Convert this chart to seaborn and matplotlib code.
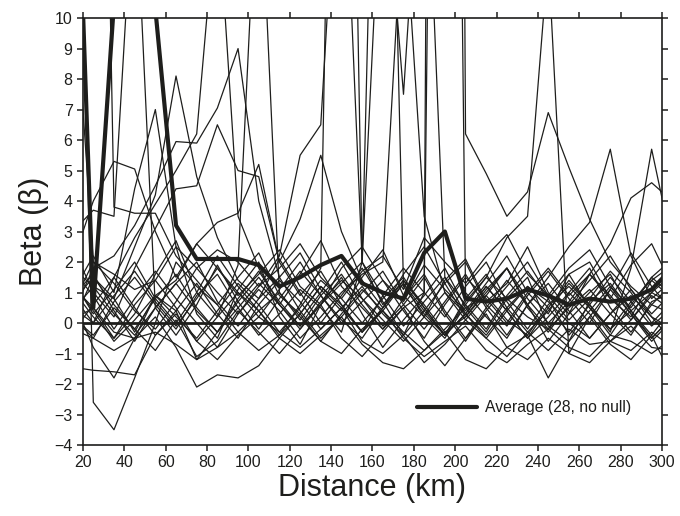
import numpy as np
import pandas as pd
import matplotlib
matplotlib.use('Agg')
import matplotlib.pyplot as plt
import seaborn as sns

# distance bins (km), centre of each 10 km bin
dist = [15, 25, 35, 45, 55, 65, 75, 85, 95, 105, 115, 125, 135, 145, 155,
        165, 175, 185, 195, 205, 215, 225, 235, 245, 255, 265, 275, 285, 295, 305]

# beta per station
s01 = [6.0, 40.0, 3.8, 3.6, 3.6, 2.2, 1.4, 0.6, 1.5, 2.3, 0.9, 0.3, 1.2, 0.5, -0.3, 0.4, 1.3, 0.2, -0.5, 0.6, 1.5, 0.8, 0.2, -0.2, 0.5, 1.1, 0.3, -0.4, 0.7, 1.0]
s02 = [-1.45, -1.55, -1.6, -1.7, -0.4, 0.3, -0.6, -1.2, -0.4, 0.2, -0.3, -0.8, -0.2, 0.5, -0.6, -1.0, -0.4, -1.3, -0.7, 0.1, -0.5, -1.1, -0.3, -0.9, -0.2, -0.7, -0.6, -0.1, -0.8, -0.9]
s03 = [25.0, -2.6, -3.5, -1.8, 0.0, 2.0, 1.2, 0.6, -0.3, 0.4, 1.0, 0.2, -0.6, 0.3, 1.1, 0.4, -0.3, -0.9, -0.2, 0.5, 0.9, 0.1, -0.4, 0.6, 1.2, 0.5, -0.2, 0.4, 1.0, 0.6]
s04 = [0.8, -0.8, -1.8, -0.5, 0.9, 0.4, -1.2, -0.3, 0.5, 1.3, 0.6, -0.2, 0.7, 1.4, 0.8, 0.1, -0.6, 0.2, 1.0, 0.3, -0.4, 0.5, 1.2, 0.7, 0.0, -0.5, 0.3, 0.9, 0.2, -0.2]
s05 = [2.0, 4.0, 5.3, 5.05, 3.0, 1.5, 2.6, 1.8, 0.9, 1.6, 2.4, 1.2, 0.6, 1.8, 2.5, 1.4, 0.7, 1.9, 1.1, 0.4, 1.3, 2.2, 1.0, 0.3, 1.6, 2.0, 0.8, 0.2, 1.4, 1.9]
s06 = [3.0, 3.7, 3.5, 15.0, 0.5, -0.4, 0.6, 1.9, 0.7, -0.2, 0.8, 1.7, 0.9, 0.1, -0.5, 0.5, 1.4, 0.6, -0.3, 0.2, 1.1, 1.8, 0.6, -0.6, 0.3, 1.0, 1.6, 0.4, -0.4, 0.5]
s07 = [1.0, 2.2, 1.0, 4.4, 7.0, 2.5, 0.3, -0.5, 1.1, 2.0, 0.2, -0.7, 0.6, 1.5, 0.3, -0.8, 0.1, 0.9, 1.8, 0.5, -0.3, 0.8, 1.5, -0.1, -0.6, 0.7, 1.3, 0.4, -0.5, 0.2]
s08 = [1.8, 1.2, 0.8, 2.5, 4.2, 8.1, 4.8, 2.8, 1.4, 0.8, 2.1, 1.0, 0.0, 0.9, 1.8, 0.7, -0.4, 0.4, 1.3, 2.0, 0.6, -0.1, 0.9, 1.7, 0.8, 0.0, 1.1, 2.3, 1.2, 0.4]
s09 = [0.3, 1.8, 2.2, 3.2, 4.5, 5.95, 5.9, 7.05, 9.0, 4.0, 1.5, 2.3, 1.1, 0.4, 1.5, 2.4, 0.9, 0.2, 1.4, 2.1, 0.7, 1.3, 2.5, 1.0, 0.3, 1.6, 0.8, 1.9, 2.6, 1.2]
s10 = [0.5, 0.0, 1.5, 2.8, 3.9, 5.0, 6.2, 14.0, 3.5, 1.8, 0.6, 1.6, 2.7, 1.2, 0.5, -0.2, 0.8, 1.6, 0.4, -0.5, 0.5, 1.4, 0.6, -0.2, 1.0, 1.8, 0.5, -0.3, 0.6, 1.3]
s11 = [2.5, 1.0, 0.2, 1.8, 3.1, 4.4, 4.5, 6.5, 5.0, 4.8, 2.0, 0.9, 1.7, 0.6, -0.3, 0.9, 1.8, 1.0, 0.2, 1.2, 2.0, 0.7, -0.2, 0.8, 1.6, 0.5, -0.4, 0.6, 1.5, 0.9]
s12 = [1.2, 0.5, -0.5, 0.3, 1.6, 2.7, 1.0, 0.2, 1.9, 16.0, 1.0, 0.1, 1.0, 2.0, 0.8, -0.1, 0.6, 1.5, 0.3, -0.6, 0.4, 1.2, 2.0, 0.9, 0.1, 0.8, 1.7, 1.0, 0.0, 0.7]
s13 = [0.0, 1.5, 0.8, -0.3, 0.9, 1.4, 2.6, 3.3, 3.6, 5.2, 2.0, 3.4, 5.5, 3.0, 1.4, 0.5, 1.6, 2.5, 1.3, 0.2, 1.0, 1.8, 0.5, -0.3, 0.6, 1.4, 2.2, 1.1, 0.3, 1.0]
s14 = [0.6, 2.0, 1.3, 0.4, -0.2, 0.7, 1.8, 1.0, 0.3, 1.2, 2.2, 5.5, 6.5, 18.0, 2.0, 0.6, 1.4, 0.5, -0.4, 0.3, 1.2, 0.4, -0.5, 0.2, 1.0, 0.3, -0.6, 0.1, 0.9, 0.4]
s15 = [1.4, 0.3, 1.1, 2.0, 0.8, 0.0, 1.0, 2.2, 1.2, 0.4, -0.4, 0.6, 1.8, 40.0, 2.0, 0.9, -0.1, 0.7, 1.5, 0.6, -0.2, 0.9, 1.7, 0.8, -0.4, 0.4, 1.2, 0.3, -0.5, 0.2]
s16 = [0.9, 1.6, 0.4, -0.6, 0.5, 1.3, 0.4, -0.3, 0.8, 1.7, 0.7, -0.1, 0.6, 1.3, 2.0, 30.0, 1.2, 0.3, -0.4, 0.8, 1.6, 0.5, -0.3, 0.4, 1.3, 0.6, -0.2, 0.7, 1.4, 0.8]
s17 = [0.2, -0.5, 0.7, 1.5, 0.6, -0.2, 0.9, 1.6, 0.5, -0.4, 0.3, 1.1, 0.5, -0.3, 2.0, 16.0, 7.5, 18.0, 1.5, 0.3, -0.5, 0.4, 1.2, 0.5, -0.3, 0.6, 1.5, 0.7, -0.1, 0.5]
s18 = [1.7, 0.9, -0.2, 0.8, 1.7, 0.8, 0.0, -0.8, 0.3, 1.1, 0.4, -0.5, 0.2, 1.0, 1.6, 2.0, 14.0, 3.5, 1.0, 0.1, 0.9, 1.8, 0.8, 0.0, 0.7, 1.6, 0.9, 0.1, 1.0, 1.6]
s19 = [-0.3, 0.6, 1.5, 0.5, -0.4, 0.4, 1.3, 0.3, -0.5, 0.6, 1.4, 0.7, -0.2, 0.5, 1.2, 0.3, -0.4, 1.0, 60.0, 1.0, 0.2, -0.5, 0.6, 1.3, 0.4, -0.5, 0.3, 1.1, 0.2, -0.6]
s20 = [0.7, 1.5, 0.6, -0.2, 0.8, 1.6, 0.5, -0.3, 0.7, 1.5, 0.6, -0.1, 0.9, 1.6, 0.6, -0.2, 0.5, 1.0, 120.0, 6.2, 4.9, 3.5, 4.3, 6.9, 5.1, 3.4, 2.0, 1.2, 0.6, 0.3]
s21 = [1.1, 0.2, -0.5, 0.6, 1.4, 0.5, -0.6, 0.2, 1.0, 0.4, -0.5, 0.3, 1.2, 0.6, -0.3, 0.5, 1.3, 0.4, -0.4, 0.7, 1.5, 2.8, 3.5, 12.0, -1.0, 0.2, 1.1, 0.3, -0.6, 0.1]
s22 = [0.4, 1.2, 0.3, -0.4, 0.5, 1.3, 2.0, 0.7, -0.1, 0.8, 1.5, 0.4, -0.5, 0.2, 1.0, 1.7, 0.6, -0.2, 0.7, 1.6, 0.5, -0.4, 0.6, 1.5, 2.5, 3.3, 5.7, 2.2, 0.8, 1.4]
s23 = [1.3, 0.4, -0.6, 0.1, 0.9, 0.2, -0.5, 0.4, 1.3, 0.6, -0.3, 0.5, 1.4, 0.8, 0.0, 0.8, 1.5, 0.5, -0.4, 0.3, 1.2, 0.4, -0.5, 0.5, 1.4, 0.6, -0.3, 1.8, 5.7, 2.5]
s24 = [0.9, 0.0, 0.9, 1.7, 0.7, -0.1, 0.8, 1.8, 1.0, 0.2, 1.1, 2.0, 0.9, 0.0, 0.7, 1.4, 0.4, -0.5, 0.6, 1.5, 0.8, 0.0, 1.0, 1.8, 0.9, 1.6, 2.6, 4.1, 4.6, 4.0]
s25 = [0.2, -0.4, 0.5, -0.2, -0.9, 0.1, -1.1, -0.6, 0.4, -0.3, -1.0, -0.2, 0.6, -0.5, -1.1, -0.3, 0.5, -0.6, -1.4, -0.5, 0.3, -0.8, -0.4, -1.8, -0.6, 0.2, -0.7, -1.2, -0.4, -1.8]
s26 = [0.1, 0.5, -0.3, -0.5, 0.2, -0.8, -2.1, -1.7, -1.8, -1.4, -0.5, -1.0, -0.4, 0.2, -0.7, -1.3, -1.5, -0.9, -0.3, -1.2, -1.5, -0.8, -1.2, -0.5, -1.0, -1.3, -0.6, -0.9, -0.3, -0.8]
s27 = [-0.2, -0.5, -0.9, -0.5, -0.3, -0.7, -1.2, -0.8, -0.3, -0.9, -0.4, 0.3, -0.6, -1.0, -0.2, 0.4, -0.5, -1.1, -0.6, -0.1, -0.9, -1.3, -0.7, -0.2, -0.8, -1.1, -0.4, -0.6, -1.0, -0.5]
s28 = [12.0, 2.0, 1.6, 1.1, 1.4, 2.5, 1.8, 2.4, 2.0, 1.2, 1.8, 2.6, 1.5, 0.8, 1.7, 2.2, 1.1, 2.8, 2.0, 1.3, 2.2, 2.9, 1.6, 0.9, 1.8, 2.4, 1.2, 0.5, 1.5, 2.1]

average = [20.0, 0.5, 10.5, 14.0, 10.3, 3.2, 2.1, 2.1, 2.1, 1.9, 1.2, 1.5, 1.9, 2.2, 1.3,
           1.0, 0.8, 2.3, 3.0, 0.8, 0.7, 0.8, 1.1, 0.9, 0.6, 0.8, 0.7, 0.8, 1.1, 1.8]

stations = [s01, s02, s03, s04, s05, s06, s07, s08, s09, s10, s11, s12, s13, s14,
            s15, s16, s17, s18, s19, s20, s21, s22, s23, s24, s25, s26, s27, s28]

# long-form table for seaborn
rows = []
for k, s in enumerate(stations):
    for d, b in zip(dist, s):
        rows.append({'station': k, 'dist': d, 'beta': b})
df = pd.DataFrame(rows)
avg_df = pd.DataFrame({'dist': dist, 'beta': average})

sns.set_style('ticks')
plt.rcParams['font.family'] = ['Liberation Sans', 'DejaVu Sans']

fig, ax = plt.subplots(figsize=(6.8, 5.16), dpi=100)
fig.subplots_adjust(left=0.122, right=0.9735, top=0.965, bottom=0.1376)

ink = '#1e1e1c'
sns.lineplot(data=df, x='dist', y='beta', units='station', estimator=None,
             color=ink, lw=0.9, ax=ax, legend=False)
ax.axhline(0, color=ink, lw=2.0, zorder=3)
sns.lineplot(data=avg_df, x='dist', y='beta', color=ink, lw=3.0, ax=ax,
             label='Average (28, no null)', zorder=4)

ax.set_xlim(20, 300)
ax.set_ylim(-4, 10)
ax.set_xticks(np.arange(20, 301, 20))
ax.set_yticks(np.arange(-4, 11, 1))
ax.tick_params(direction='out', length=4, width=1.1, labelsize=11.5,
               top=True, right=True, colors=ink)
for sp in ax.spines.values():
    sp.set_visible(True)
    sp.set_linewidth(1.2)
    sp.set_color(ink)

ax.set_xlabel('Distance (km)', fontsize=22, color=ink, labelpad=2)
ax.set_ylabel('Beta (β)', fontsize=22, color=ink, labelpad=4)

leg = ax.legend(loc='center right', bbox_to_anchor=(0.947, 0.087), frameon=False,
                fontsize=11.3, handlelength=3.85, handletextpad=0.5,
                borderpad=0, borderaxespad=0)
for t in leg.get_texts():
    t.set_color(ink)

fig.savefig('out.png', dpi=100)
